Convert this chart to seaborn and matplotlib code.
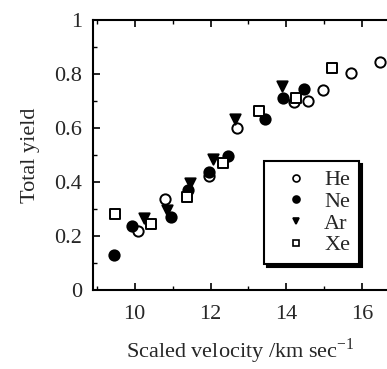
import matplotlib
matplotlib.use('Agg')
import matplotlib.pyplot as plt
from matplotlib.lines import Line2D
from matplotlib.ticker import MultipleLocator
import seaborn as sns
import pandas as pd

# values
he_x = [10.09, 10.79, 11.97, 12.69, 14.19, 14.57, 14.97, 15.71, 16.46]
he_y = [0.220, 0.336, 0.422, 0.599, 0.697, 0.701, 0.741, 0.803, 0.843]
ne_x = [9.45, 9.94, 10.95, 11.41, 11.97, 12.45, 13.44, 13.92, 14.45]
ne_y = [0.128, 0.238, 0.269, 0.370, 0.438, 0.496, 0.633, 0.710, 0.744]
ar_x = [10.25, 10.84, 11.46, 12.06, 12.65, 13.88]
ar_y = [0.266, 0.296, 0.395, 0.484, 0.633, 0.757]
xe_x = [9.47, 10.44, 11.37, 12.32, 13.29, 14.25, 15.20]
xe_y = [0.281, 0.244, 0.346, 0.471, 0.664, 0.710, 0.821]

gases = ['He', 'Ne', 'Ar', 'Xe']
markers = {'He': 'o', 'Ne': 'o', 'Ar': 'v', 'Xe': 's'}
faces = {'He': 'white', 'Ne': 'black', 'Ar': 'black', 'Xe': 'white'}

df = pd.concat([
    pd.DataFrame({'velocity': he_x, 'yield': he_y, 'gas': 'He'}),
    pd.DataFrame({'velocity': ne_x, 'yield': ne_y, 'gas': 'Ne'}),
    pd.DataFrame({'velocity': ar_x, 'yield': ar_y, 'gas': 'Ar'}),
    pd.DataFrame({'velocity': xe_x, 'yield': xe_y, 'gas': 'Xe'}),
])

sns.set_style('ticks')
plt.rcParams['font.family'] = ['Liberation Serif', 'DejaVu Serif']

fig = plt.figure(figsize=(3.87, 3.69), dpi=100)
ax = fig.add_axes([0.24, 0.214, 0.76, 0.732])

for g in gases:
    sub = df[df['gas'] == g]
    sns.scatterplot(x='velocity', y='yield', data=sub, ax=ax, marker=markers[g],
                    s=55, color=faces[g], edgecolor='black', linewidth=1.4, legend=False, zorder=3)

ax.set_xlim(8.9, 16.65)
ax.set_ylim(0, 1)
ax.xaxis.set_major_locator(MultipleLocator(2))
ax.xaxis.set_minor_locator(MultipleLocator(1))
ax.yaxis.set_minor_locator(MultipleLocator(0.1))
ax.set_yticks([0, 0.2, 0.4, 0.6, 0.8, 1.0])
ax.set_yticklabels(['0', '0.2', '0.4', '0.6', '0.8', '1'])
ax.tick_params(which='both', direction='in', top=True, labelsize=16, color='black')
ax.tick_params(axis='x', which='both', pad=11)
ax.tick_params(axis='y', which='both', pad=8)
ax.tick_params(which='major', length=5, width=1.2)
ax.tick_params(which='minor', length=3, width=1.0)
for side in ['left', 'bottom', 'top']:
    ax.spines[side].set_linewidth(1.5)
    ax.spines[side].set_color('black')
ax.spines['right'].set_visible(False)

ax.set_xlabel('Scaled velocity /km sec$^{\\mathregular{-1}}$', fontsize=16, labelpad=9)
ax.set_ylabel('Total yield', fontsize=16, labelpad=10)

handles = [Line2D([], [], linestyle='none', marker=markers[g], markersize=5,
                  markerfacecolor=faces[g], markeredgecolor='black', markeredgewidth=1.2)
           for g in gases]
leg = ax.legend(handles, gases, loc='lower right', bbox_to_anchor=(0.905, 0.095),
                borderaxespad=0, fontsize=16, frameon=True, fancybox=False,
                shadow={'color': 'black', 'alpha': 1}, handlelength=2.1,
                handletextpad=0.2, labelspacing=0.05, borderpad=0.4)
leg.get_frame().set_edgecolor('black')
leg.get_frame().set_linewidth(1.5)

fig.savefig('out.png', dpi=100)
